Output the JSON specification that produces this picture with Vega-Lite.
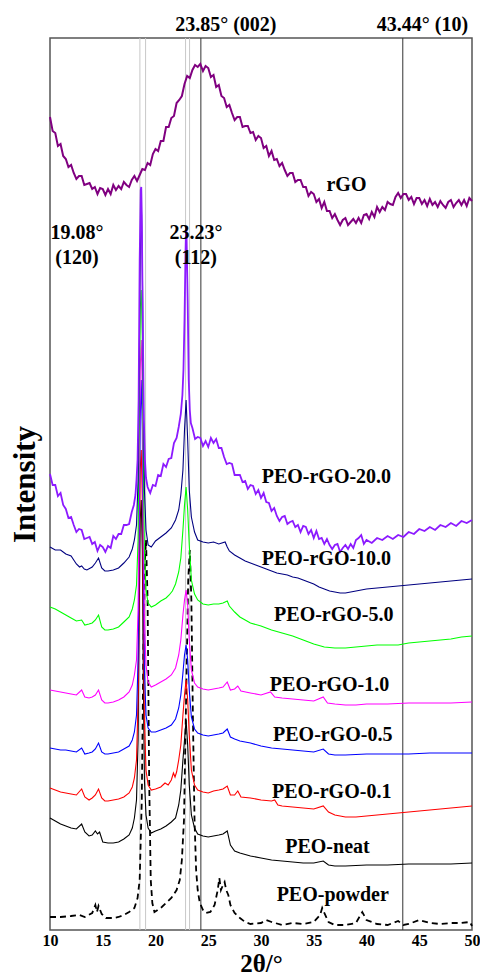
{
  "$schema": "https://vega.github.io/schema/vega-lite/v6.json",
  "width": 422,
  "height": 892,
  "autosize": {"type": "none"},
  "padding": {"left": 50, "top": 38, "right": 8, "bottom": 49},
  "background": "white",
  "config": {"view": {"stroke": "#555555", "strokeWidth": 1.5}},
  "datasets": {
    "rGO": [{"x":10,"y":813},{"x":10.25,"y":799},{"x":10.5,"y":797},{"x":10.75,"y":784},{"x":11,"y":786},{"x":11.25,"y":774},{"x":11.5,"y":771},{"x":11.75,"y":763},{"x":12,"y":765},{"x":12.25,"y":757},{"x":12.5,"y":751},{"x":12.75,"y":754},{"x":13,"y":754},{"x":13.25,"y":745},{"x":13.5,"y":746},{"x":13.75,"y":747},{"x":14,"y":741},{"x":14.25,"y":743},{"x":14.5,"y":736},{"x":14.75,"y":742},{"x":15,"y":741},{"x":15.25,"y":735},{"x":15.5,"y":741},{"x":15.75,"y":736},{"x":16,"y":745},{"x":16.25,"y":740},{"x":16.5,"y":744},{"x":16.75,"y":741},{"x":17,"y":748},{"x":17.25,"y":745},{"x":17.5,"y":743},{"x":17.75,"y":750},{"x":18,"y":754},{"x":18.25,"y":749},{"x":18.5,"y":755},{"x":18.75,"y":761},{"x":19,"y":760},{"x":19.25,"y":767},{"x":19.5,"y":765},{"x":19.75,"y":776},{"x":20,"y":781},{"x":20.25,"y":779},{"x":20.5,"y":789},{"x":20.75,"y":789},{"x":21,"y":803},{"x":21.25,"y":803},{"x":21.5,"y":812},{"x":21.75,"y":814},{"x":22,"y":827},{"x":22.25,"y":830},{"x":22.5,"y":834},{"x":22.75,"y":846},{"x":23,"y":854},{"x":23.25,"y":852},{"x":23.5,"y":860},{"x":23.75,"y":865},{"x":24,"y":863},{"x":24.25,"y":866},{"x":24.5,"y":859},{"x":24.75,"y":864},{"x":25,"y":862},{"x":25.25,"y":853},{"x":25.5,"y":855},{"x":25.75,"y":843},{"x":26,"y":845},{"x":26.25,"y":834},{"x":26.5,"y":832},{"x":26.75,"y":823},{"x":27,"y":825},{"x":27.25,"y":817},{"x":27.5,"y":810},{"x":27.75,"y":813},{"x":28,"y":813},{"x":28.25,"y":803},{"x":28.5,"y":804},{"x":28.75,"y":804},{"x":29,"y":797},{"x":29.25,"y":798},{"x":29.5,"y":790},{"x":29.75,"y":794},{"x":30,"y":792},{"x":30.25,"y":782},{"x":30.5,"y":784},{"x":30.75,"y":774},{"x":31,"y":779},{"x":31.25,"y":770},{"x":31.5,"y":771},{"x":31.75,"y":764},{"x":32,"y":767},{"x":32.25,"y":760},{"x":32.5,"y":754},{"x":32.75,"y":757},{"x":33,"y":757},{"x":33.25,"y":748},{"x":33.5,"y":750},{"x":33.75,"y":750},{"x":34,"y":743},{"x":34.25,"y":743},{"x":34.5,"y":734},{"x":34.75,"y":738},{"x":35,"y":736},{"x":35.25,"y":728},{"x":35.5,"y":731},{"x":35.75,"y":722},{"x":36,"y":728},{"x":36.25,"y":719},{"x":36.5,"y":719},{"x":36.75,"y":712},{"x":37,"y":716},{"x":37.25,"y":710},{"x":37.5,"y":705},{"x":37.75,"y":710},{"x":38,"y":712},{"x":38.25,"y":705},{"x":38.5,"y":708},{"x":38.75,"y":711},{"x":39,"y":707},{"x":39.25,"y":712},{"x":39.5,"y":707},{"x":39.75,"y":715},{"x":40,"y":716},{"x":40.25,"y":711},{"x":40.5,"y":718},{"x":40.75,"y":713},{"x":41,"y":723},{"x":41.25,"y":718},{"x":41.5,"y":723},{"x":41.75,"y":720},{"x":42,"y":728},{"x":42.25,"y":726},{"x":42.5,"y":725},{"x":42.75,"y":733},{"x":43,"y":737},{"x":43.25,"y":732},{"x":43.5,"y":736},{"x":43.75,"y":736},{"x":44,"y":730},{"x":44.25,"y":733},{"x":44.5,"y":726},{"x":44.75,"y":732},{"x":45,"y":732},{"x":45.25,"y":726},{"x":45.5,"y":730},{"x":45.75,"y":724},{"x":46,"y":731},{"x":46.25,"y":725},{"x":46.5,"y":728},{"x":46.75,"y":723},{"x":47,"y":729},{"x":47.25,"y":725},{"x":47.5,"y":722},{"x":47.75,"y":728},{"x":48,"y":730},{"x":48.25,"y":723},{"x":48.5,"y":727},{"x":48.75,"y":730},{"x":49,"y":725},{"x":49.25,"y":730},{"x":49.5,"y":724},{"x":49.75,"y":732},{"x":50,"y":729}],
    "p20": [{"x":10,"y":456},{"x":10.25,"y":445},{"x":10.5,"y":445},{"x":10.75,"y":434},{"x":11,"y":437},{"x":11.25,"y":425},{"x":11.5,"y":421},{"x":11.75,"y":412},{"x":12,"y":413},{"x":12.25,"y":405},{"x":12.5,"y":398},{"x":12.75,"y":401},{"x":13,"y":400},{"x":13.25,"y":391},{"x":13.5,"y":392},{"x":13.75,"y":393},{"x":14,"y":386},{"x":14.25,"y":388},{"x":14.5,"y":379},{"x":14.75,"y":385},{"x":15,"y":383},{"x":15.25,"y":378},{"x":15.5,"y":384},{"x":15.75,"y":382},{"x":16,"y":394},{"x":16.25,"y":391},{"x":16.5,"y":396},{"x":16.75,"y":396},{"x":17,"y":405},{"x":17.25,"y":405},{"x":17.5,"y":406},{"x":17.75,"y":418},{"x":17.95,"y":425},{"x":18.1,"y":435},{"x":18.2,"y":450},{"x":18.3,"y":470},{"x":18.4,"y":530},{"x":18.5,"y":670},{"x":18.6,"y":740},{"x":18.65,"y":743},{"x":18.7,"y":715},{"x":18.8,"y":600},{"x":18.9,"y":510},{"x":19,"y":470},{"x":19.1,"y":452},{"x":19.25,"y":443},{"x":19.5,"y":437},{"x":19.75,"y":445},{"x":20,"y":444},{"x":20.25,"y":455},{"x":20.5,"y":454},{"x":20.75,"y":466},{"x":21,"y":463},{"x":21.25,"y":471},{"x":21.5,"y":472},{"x":21.75,"y":487},{"x":22,"y":492},{"x":22.2,"y":503},{"x":22.4,"y":516},{"x":22.55,"y":535},{"x":22.65,"y":560},{"x":22.75,"y":610},{"x":22.85,"y":680},{"x":22.9,"y":704},{"x":22.95,"y":690},{"x":23.05,"y":630},{"x":23.15,"y":550},{"x":23.25,"y":520},{"x":23.35,"y":507},{"x":23.5,"y":502},{"x":23.75,"y":491},{"x":24,"y":493},{"x":24.25,"y":492},{"x":24.5,"y":484},{"x":24.75,"y":489},{"x":25,"y":483},{"x":25.25,"y":492},{"x":25.5,"y":487},{"x":25.75,"y":491},{"x":26,"y":482},{"x":26.25,"y":482},{"x":26.5,"y":473},{"x":26.75,"y":466},{"x":27,"y":467},{"x":27.25,"y":466},{"x":27.5,"y":455},{"x":27.75,"y":455},{"x":28,"y":455},{"x":28.25,"y":448},{"x":28.5,"y":449},{"x":28.75,"y":441},{"x":29,"y":445},{"x":29.25,"y":444},{"x":29.5,"y":436},{"x":29.75,"y":440},{"x":30,"y":432},{"x":30.25,"y":437},{"x":30.5,"y":428},{"x":30.75,"y":427},{"x":31,"y":419},{"x":31.25,"y":422},{"x":31.5,"y":414},{"x":31.75,"y":409},{"x":32,"y":413},{"x":32.25,"y":414},{"x":32.5,"y":406},{"x":32.75,"y":408},{"x":33,"y":409},{"x":33.25,"y":403},{"x":33.5,"y":405},{"x":33.75,"y":398},{"x":34,"y":404},{"x":34.25,"y":403},{"x":34.5,"y":396},{"x":34.75,"y":400},{"x":35,"y":392},{"x":35.25,"y":399},{"x":35.5,"y":391},{"x":35.75,"y":392},{"x":36,"y":386},{"x":36.25,"y":391},{"x":36.5,"y":385},{"x":36.75,"y":381},{"x":37,"y":385},{"x":37.25,"y":386},{"x":37.5,"y":378},{"x":37.75,"y":382},{"x":38,"y":385},{"x":38.25,"y":381},{"x":38.5,"y":386},{"x":38.75,"y":382},{"x":39,"y":390},{"x":39.25,"y":392},{"x":39.5,"y":395},{"x":39.75,"y":386},{"x":40,"y":390},{"x":40.5,"y":387},{"x":41,"y":392},{"x":41.5,"y":390},{"x":42,"y":394},{"x":42.5,"y":391},{"x":43,"y":395},{"x":43.5,"y":393},{"x":44,"y":398},{"x":44.5,"y":396},{"x":45,"y":401},{"x":45.5,"y":399},{"x":46,"y":403},{"x":46.5,"y":400},{"x":47,"y":405},{"x":47.5,"y":403},{"x":48,"y":407},{"x":48.5,"y":404},{"x":49,"y":409},{"x":49.5,"y":407},{"x":50,"y":410}],
    "p10": [{"x":10,"y":383},{"x":10.5,"y":380},{"x":11,"y":380},{"x":11.5,"y":376},{"x":12,"y":374},{"x":12.5,"y":366},{"x":12.8,"y":363},{"x":13,"y":364},{"x":13.25,"y":361},{"x":13.5,"y":360},{"x":14,"y":363},{"x":14.3,"y":367},{"x":14.6,"y":372},{"x":14.9,"y":362},{"x":15.2,"y":359},{"x":15.5,"y":359},{"x":16,"y":360},{"x":16.5,"y":362},{"x":17,"y":367},{"x":17.5,"y":373},{"x":17.8,"y":381},{"x":18,"y":390},{"x":18.2,"y":405},{"x":18.35,"y":450},{"x":18.45,"y":550},{"x":18.55,"y":670},{"x":18.65,"y":730},{"x":18.75,"y":670},{"x":18.85,"y":530},{"x":18.95,"y":440},{"x":19.1,"y":400},{"x":19.3,"y":385},{"x":19.6,"y":383},{"x":20,"y":389},{"x":20.5,"y":393},{"x":21,"y":397},{"x":21.5,"y":402},{"x":21.9,"y":410},{"x":22.2,"y":420},{"x":22.4,"y":435},{"x":22.6,"y":460},{"x":22.75,"y":500},{"x":22.9,"y":530},{"x":23.05,"y":490},{"x":23.2,"y":440},{"x":23.4,"y":413},{"x":23.7,"y":398},{"x":24,"y":390},{"x":24.5,"y":388},{"x":25,"y":387},{"x":25.5,"y":388},{"x":26,"y":386},{"x":26.6,"y":388},{"x":26.8,"y":383},{"x":27,"y":379},{"x":27.5,"y":375},{"x":28,"y":372},{"x":28.5,"y":369},{"x":29,"y":367},{"x":29.5,"y":365},{"x":30,"y":363},{"x":30.5,"y":361},{"x":31,"y":359},{"x":31.5,"y":357},{"x":32,"y":356},{"x":32.5,"y":355},{"x":33,"y":353},{"x":33.5,"y":352},{"x":34,"y":350},{"x":34.5,"y":348},{"x":35,"y":346},{"x":35.5,"y":343},{"x":36,"y":341},{"x":36.5,"y":339},{"x":37,"y":338},{"x":37.5,"y":337},{"x":38,"y":337},{"x":38.5,"y":338},{"x":39,"y":339},{"x":40,"y":341},{"x":41,"y":342},{"x":42,"y":343},{"x":43,"y":344},{"x":44,"y":345},{"x":45,"y":346},{"x":46,"y":347},{"x":47,"y":348},{"x":48,"y":349},{"x":49,"y":350},{"x":50,"y":351}],
    "p5": [{"x":10,"y":323},{"x":10.5,"y":321},{"x":11,"y":318},{"x":11.5,"y":315},{"x":12,"y":312},{"x":12.5,"y":309},{"x":13,"y":310},{"x":13.3,"y":305},{"x":13.7,"y":306},{"x":14,"y":307},{"x":14.3,"y":310},{"x":14.6,"y":315},{"x":14.9,"y":303},{"x":15.2,"y":300},{"x":15.5,"y":300},{"x":16,"y":301},{"x":16.5,"y":303},{"x":17,"y":308},{"x":17.5,"y":313},{"x":17.8,"y":321},{"x":18,"y":330},{"x":18.2,"y":345},{"x":18.35,"y":390},{"x":18.45,"y":510},{"x":18.55,"y":620},{"x":18.65,"y":640},{"x":18.75,"y":590},{"x":18.85,"y":470},{"x":18.95,"y":380},{"x":19.1,"y":340},{"x":19.3,"y":327},{"x":19.6,"y":323},{"x":20,"y":325},{"x":20.5,"y":329},{"x":21,"y":332},{"x":21.3,"y":335},{"x":21.6,"y":339},{"x":21.9,"y":346},{"x":22.2,"y":358},{"x":22.4,"y":372},{"x":22.6,"y":400},{"x":22.75,"y":425},{"x":22.9,"y":443},{"x":23.05,"y":420},{"x":23.2,"y":385},{"x":23.4,"y":350},{"x":23.7,"y":336},{"x":24,"y":330},{"x":24.5,"y":326},{"x":25,"y":325},{"x":25.5,"y":326},{"x":26,"y":326},{"x":26.4,"y":327},{"x":26.8,"y":329},{"x":27,"y":324},{"x":27.5,"y":318},{"x":28,"y":313},{"x":29,"y":307},{"x":30,"y":304},{"x":31,"y":300},{"x":32,"y":297},{"x":33,"y":294},{"x":34,"y":290},{"x":35,"y":286},{"x":36,"y":283},{"x":37,"y":282},{"x":38,"y":282},{"x":39,"y":283},{"x":40,"y":284},{"x":41,"y":285},{"x":42,"y":285},{"x":43,"y":285},{"x":44,"y":287},{"x":45,"y":288},{"x":46,"y":289},{"x":47,"y":290},{"x":48,"y":291},{"x":49,"y":293},{"x":50,"y":294}],
    "p1": [{"x":10,"y":240},{"x":10.5,"y":239},{"x":11,"y":238},{"x":11.5,"y":237},{"x":12,"y":236},{"x":12.5,"y":235},{"x":13,"y":240},{"x":13.3,"y":233},{"x":13.7,"y":232},{"x":14,"y":233},{"x":14.3,"y":235},{"x":14.6,"y":240},{"x":14.9,"y":230},{"x":15.2,"y":227},{"x":15.5,"y":227},{"x":16,"y":228},{"x":16.5,"y":230},{"x":17,"y":233},{"x":17.5,"y":238},{"x":17.8,"y":245},{"x":18,"y":255},{"x":18.2,"y":270},{"x":18.35,"y":320},{"x":18.45,"y":440},{"x":18.55,"y":560},{"x":18.65,"y":590},{"x":18.75,"y":540},{"x":18.85,"y":410},{"x":18.95,"y":310},{"x":19.1,"y":265},{"x":19.3,"y":248},{"x":19.6,"y":243},{"x":20,"y":245},{"x":20.5,"y":248},{"x":21,"y":251},{"x":21.5,"y":255},{"x":21.9,"y":262},{"x":22.2,"y":275},{"x":22.4,"y":290},{"x":22.6,"y":315},{"x":22.75,"y":330},{"x":22.9,"y":340},{"x":23.05,"y":325},{"x":23.2,"y":290},{"x":23.4,"y":260},{"x":23.7,"y":247},{"x":24,"y":243},{"x":24.5,"y":241},{"x":25,"y":240},{"x":25.5,"y":241},{"x":26,"y":242},{"x":26.4,"y":243},{"x":26.8,"y":248},{"x":27.1,"y":240},{"x":27.5,"y":241},{"x":27.8,"y":244},{"x":28.1,"y":239},{"x":29,"y":237},{"x":30,"y":235},{"x":30.9,"y":238},{"x":31.3,"y":233},{"x":32,"y":232},{"x":33,"y":231},{"x":34,"y":230},{"x":35,"y":229},{"x":35.9,"y":233},{"x":36.3,"y":227},{"x":37,"y":226},{"x":38,"y":225},{"x":39,"y":225},{"x":40,"y":226},{"x":42,"y":226},{"x":44,"y":227},{"x":46,"y":227},{"x":48,"y":227},{"x":50,"y":228}],
    "p05": [{"x":10,"y":182},{"x":10.5,"y":181},{"x":11,"y":180},{"x":11.5,"y":180},{"x":12,"y":179},{"x":12.5,"y":178},{"x":13,"y":182},{"x":13.3,"y":176},{"x":13.7,"y":177},{"x":14,"y":178},{"x":14.3,"y":181},{"x":14.6,"y":187},{"x":14.9,"y":178},{"x":15.2,"y":176},{"x":15.5,"y":176},{"x":16,"y":177},{"x":16.5,"y":178},{"x":17,"y":181},{"x":17.5,"y":184},{"x":17.8,"y":190},{"x":18,"y":198},{"x":18.2,"y":215},{"x":18.35,"y":270},{"x":18.45,"y":390},{"x":18.55,"y":510},{"x":18.65,"y":550},{"x":18.75,"y":500},{"x":18.85,"y":370},{"x":18.95,"y":260},{"x":19.1,"y":215},{"x":19.3,"y":202},{"x":19.6,"y":198},{"x":20,"y":198},{"x":20.5,"y":200},{"x":21,"y":202},{"x":21.5,"y":205},{"x":21.9,"y":211},{"x":22.2,"y":222},{"x":22.4,"y":235},{"x":22.6,"y":257},{"x":22.75,"y":275},{"x":22.9,"y":285},{"x":23.05,"y":270},{"x":23.2,"y":240},{"x":23.4,"y":213},{"x":23.7,"y":201},{"x":24,"y":197},{"x":24.5,"y":195},{"x":25,"y":194},{"x":25.5,"y":195},{"x":26,"y":196},{"x":26.4,"y":197},{"x":26.8,"y":201},{"x":27.1,"y":193},{"x":27.5,"y":191},{"x":28,"y":189},{"x":29,"y":187},{"x":30,"y":184},{"x":31,"y":182},{"x":32,"y":181},{"x":33,"y":180},{"x":34,"y":179},{"x":35,"y":178},{"x":35.9,"y":181},{"x":36.4,"y":176},{"x":37,"y":175},{"x":38,"y":175},{"x":40,"y":176},{"x":42,"y":176},{"x":44,"y":176},{"x":46,"y":177},{"x":48,"y":177},{"x":50,"y":177}],
    "p01": [{"x":10,"y":142},{"x":10.5,"y":140},{"x":11,"y":138},{"x":11.5,"y":137},{"x":12,"y":136},{"x":12.5,"y":135},{"x":13,"y":141},{"x":13.3,"y":133},{"x":13.7,"y":130},{"x":14,"y":132},{"x":14.3,"y":135},{"x":14.6,"y":141},{"x":14.9,"y":132},{"x":15.2,"y":129},{"x":15.5,"y":129},{"x":16,"y":130},{"x":16.5,"y":131},{"x":17,"y":133},{"x":17.5,"y":137},{"x":17.8,"y":143},{"x":18,"y":152},{"x":18.2,"y":170},{"x":18.35,"y":230},{"x":18.45,"y":350},{"x":18.55,"y":460},{"x":18.65,"y":480},{"x":18.75,"y":430},{"x":18.85,"y":310},{"x":18.95,"y":210},{"x":19.1,"y":160},{"x":19.3,"y":145},{"x":19.6,"y":140},{"x":20,"y":141},{"x":20.5,"y":143},{"x":20.9,"y":147},{"x":21.2,"y":145},{"x":21.5,"y":150},{"x":21.7,"y":157},{"x":21.85,"y":153},{"x":22,"y":158},{"x":22.2,"y":170},{"x":22.4,"y":185},{"x":22.6,"y":215},{"x":22.75,"y":235},{"x":22.9,"y":250},{"x":23.05,"y":230},{"x":23.2,"y":195},{"x":23.4,"y":160},{"x":23.7,"y":145},{"x":24,"y":140},{"x":24.5,"y":138},{"x":25,"y":137},{"x":25.5,"y":139},{"x":26,"y":140},{"x":26.4,"y":141},{"x":26.8,"y":144},{"x":27.1,"y":135},{"x":27.5,"y":135},{"x":27.8,"y":139},{"x":28.1,"y":133},{"x":29,"y":132},{"x":30,"y":130},{"x":31,"y":129},{"x":31.3,"y":130},{"x":31.6,"y":125},{"x":32,"y":124},{"x":33,"y":123},{"x":34,"y":122},{"x":35,"y":121},{"x":35.9,"y":124},{"x":36.4,"y":118},{"x":37,"y":115},{"x":38,"y":113},{"x":39,"y":113},{"x":40,"y":114},{"x":41,"y":115},{"x":42,"y":116},{"x":43,"y":117},{"x":44,"y":118},{"x":45,"y":119},{"x":46,"y":120},{"x":47,"y":121},{"x":48,"y":122},{"x":49,"y":123},{"x":50,"y":124}],
    "neat": [{"x":10,"y":112},{"x":10.5,"y":109},{"x":11,"y":106},{"x":11.5,"y":104},{"x":12,"y":102},{"x":12.5,"y":101},{"x":13,"y":106},{"x":13.3,"y":98},{"x":13.7,"y":94},{"x":14,"y":95},{"x":14.3,"y":99},{"x":14.5,"y":96},{"x":14.7,"y":98},{"x":15,"y":88},{"x":15.5,"y":87},{"x":16,"y":87},{"x":16.5,"y":88},{"x":17,"y":91},{"x":17.5,"y":95},{"x":17.8,"y":102},{"x":18,"y":112},{"x":18.2,"y":130},{"x":18.35,"y":190},{"x":18.45,"y":310},{"x":18.55,"y":410},{"x":18.65,"y":430},{"x":18.75,"y":380},{"x":18.85,"y":250},{"x":18.95,"y":150},{"x":19.1,"y":115},{"x":19.3,"y":102},{"x":19.6,"y":97},{"x":20,"y":99},{"x":20.5,"y":101},{"x":21,"y":104},{"x":21.5,"y":108},{"x":21.9,"y":112},{"x":22.2,"y":125},{"x":22.4,"y":140},{"x":22.6,"y":170},{"x":22.75,"y":190},{"x":22.9,"y":210},{"x":23.05,"y":185},{"x":23.2,"y":145},{"x":23.4,"y":115},{"x":23.7,"y":102},{"x":24,"y":96},{"x":24.5,"y":94},{"x":25,"y":93},{"x":25.5,"y":94},{"x":26,"y":95},{"x":26.4,"y":96},{"x":26.8,"y":99},{"x":27.1,"y":85},{"x":27.5,"y":79},{"x":28,"y":77},{"x":29,"y":74},{"x":30,"y":72},{"x":31,"y":70},{"x":32,"y":69},{"x":33,"y":68},{"x":34,"y":67},{"x":35,"y":67},{"x":35.9,"y":69},{"x":36.4,"y":65},{"x":37,"y":64},{"x":38,"y":64},{"x":40,"y":65},{"x":42,"y":65},{"x":44,"y":66},{"x":46,"y":66},{"x":48,"y":66},{"x":50,"y":67}],
    "powder": [{"x":10,"y":13},{"x":11,"y":13},{"x":12,"y":14},{"x":12.8,"y":15},{"x":13.3,"y":13},{"x":14,"y":17},{"x":14.3,"y":25},{"x":14.45,"y":18},{"x":14.6,"y":24},{"x":14.9,"y":16},{"x":15.3,"y":12},{"x":16,"y":12},{"x":16.5,"y":13},{"x":17,"y":15},{"x":17.5,"y":18},{"x":18,"y":22},{"x":18.3,"y":32},{"x":18.5,"y":50},{"x":18.7,"y":130},{"x":18.85,"y":280},{"x":19,"y":370},{"x":19.1,"y":390},{"x":19.25,"y":330},{"x":19.4,"y":150},{"x":19.55,"y":50},{"x":19.7,"y":27},{"x":19.9,"y":18},{"x":20.2,"y":20},{"x":20.6,"y":23},{"x":21,"y":27},{"x":21.5,"y":32},{"x":22,"y":40},{"x":22.3,"y":50},{"x":22.5,"y":70},{"x":22.7,"y":110},{"x":22.9,"y":230},{"x":23.1,"y":350},{"x":23.25,"y":380},{"x":23.4,"y":330},{"x":23.55,"y":210},{"x":23.7,"y":110},{"x":23.85,"y":60},{"x":24,"y":40},{"x":24.2,"y":27},{"x":24.5,"y":20},{"x":24.8,"y":17},{"x":25.2,"y":18},{"x":25.6,"y":25},{"x":25.9,"y":40},{"x":26.05,"y":52},{"x":26.2,"y":40},{"x":26.4,"y":45},{"x":26.55,"y":48},{"x":26.7,"y":40},{"x":26.9,"y":35},{"x":27.1,"y":25},{"x":27.5,"y":17},{"x":28,"y":12},{"x":28.5,"y":8},{"x":29,"y":6},{"x":30,"y":7},{"x":30.5,"y":10},{"x":31,"y":8},{"x":32,"y":5},{"x":33,"y":7},{"x":34,"y":6},{"x":35,"y":8},{"x":35.6,"y":15},{"x":35.8,"y":22},{"x":36,"y":17},{"x":36.4,"y":8},{"x":37,"y":5},{"x":38,"y":5},{"x":39,"y":7},{"x":39.6,"y":18},{"x":40,"y":10},{"x":41,"y":6},{"x":42,"y":5},{"x":43,"y":9},{"x":43.5,"y":5},{"x":44,"y":6},{"x":45,"y":10},{"x":46,"y":7},{"x":47,"y":6},{"x":48,"y":7},{"x":49,"y":7},{"x":49.8,"y":8},{"x":50,"y":4}],
    "grayLines": [{"x":18.52},{"x":19.06},{"x":22.85},{"x":23.23}],
    "blackLines": [{"x":24.3},{"x":43.44}],
    "labels": [
      {"x":38.1,"y":745,"t":"rGO","a":"center"},
      {"x":36.2,"y":453,"t":"PEO-rGO-20.0","a":"center"},
      {"x":36.2,"y":371,"t":"PEO-rGO-10.0","a":"center"},
      {"x":36.9,"y":315,"t":"PEO-rGO-5.0","a":"center"},
      {"x":36.5,"y":245,"t":"PEO-rGO-1.0","a":"center"},
      {"x":36.8,"y":195,"t":"PEO-rGO-0.5","a":"center"},
      {"x":36.7,"y":138,"t":"PEO-rGO-0.1","a":"center"},
      {"x":36.3,"y":83,"t":"PEO-neat","a":"center"},
      {"x":36.8,"y":35,"t":"PEO-powder","a":"center"},
      {"x":26.67,"y":905,"t":"23.85° (002)","a":"center"},
      {"x":45.3,"y":905,"t":"43.44° (10)","a":"center"},
      {"x":12.56,"y":697,"t":"19.08°","a":"left"},
      {"x":12.56,"y":672,"t":"(120)","a":"left"},
      {"x":23.83,"y":697,"t":"23.23°","a":"left"},
      {"x":23.83,"y":672,"t":"(112)","a":"left"}
    ]
  },
  "encoding": {
    "x": {"field": "x", "type": "quantitative", "scale": {"domain": [10, 50], "nice": false, "zero": false},
      "axis": {"values": [10,15,20,25,30,35,40,45,50], "ticks": false, "domain": false, "grid": false, "labelFont": "Liberation Serif", "labelFontWeight": "bold", "labelFontSize": 16, "labelColor": "#000000", "labelPadding": 2, "labelFlush": false, "labelOverlap": false, "labelBound": false, "title": "2θ/°", "titleFont": "Liberation Serif", "titleFontWeight": "bold", "titleFontSize": 25, "titleColor": "#000000", "titlePadding": 3}},
    "y": {"field": "y", "type": "quantitative", "scale": {"domain": [0, 892], "nice": false, "zero": false},
      "axis": {"labels": false, "ticks": false, "domain": false, "grid": false, "title": "Intensity", "titleFont": "Liberation Serif", "titleFontWeight": "bold", "titleFontSize": 31, "titleColor": "#000000", "titlePadding": 9}}
  },
  "layer": [
    {"data": {"name": "grayLines"}, "mark": {"type": "rule", "color": "#c8c8c8", "strokeWidth": 1}, "encoding": {"y": null}},
    {"data": {"name": "blackLines"}, "mark": {"type": "rule", "color": "#333333", "strokeWidth": 1}, "encoding": {"y": null}},
    {"data": {"name": "powder"}, "mark": {"type": "line", "color": "#000000", "strokeWidth": 1.8, "strokeDash": [6, 4]}},
    {"data": {"name": "neat"}, "mark": {"type": "line", "color": "#000000", "strokeWidth": 1.1}},
    {"data": {"name": "p01"}, "mark": {"type": "line", "color": "#ff0000", "strokeWidth": 1.1}},
    {"data": {"name": "p05"}, "mark": {"type": "line", "color": "#0000ff", "strokeWidth": 1.1}},
    {"data": {"name": "p1"}, "mark": {"type": "line", "color": "#ff00ff", "strokeWidth": 1.1}},
    {"data": {"name": "p5"}, "mark": {"type": "line", "color": "#00ff00", "strokeWidth": 1.1}},
    {"data": {"name": "p10"}, "mark": {"type": "line", "color": "#000080", "strokeWidth": 1.1}},
    {"data": {"name": "p20"}, "mark": {"type": "line", "color": "#8c1aff", "strokeWidth": 1.8}},
    {"data": {"name": "rGO"}, "mark": {"type": "line", "color": "#800080", "strokeWidth": 2}},
    {"data": {"name": "labels"}, "mark": {"type": "text", "font": "Liberation Serif", "fontWeight": "bold", "fontSize": 20, "color": "#000000", "baseline": "middle"},
      "encoding": {"text": {"field": "t"}, "align": {"field": "a", "type": "nominal", "scale": null}}}
  ]
}
